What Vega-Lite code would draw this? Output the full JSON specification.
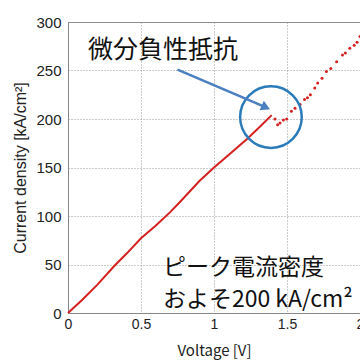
{
  "$schema": "https://vega.github.io/schema/vega-lite/v6.json",
  "width": 292,
  "height": 291,
  "autosize": "none",
  "padding": {"left": 68, "top": 22, "right": 0, "bottom": 51},
  "background": "white",
  "config": {
    "view": {"stroke": "#888888", "strokeWidth": 1},
    "axis": {
      "gridColor": "#999999", "gridDash": [1, 2], "gridWidth": 1,
      "domainColor": "#888888", "ticks": false,
      "labelFont": "Liberation Sans", "labelFontSize": 15, "labelColor": "#222222",
      "titleFont": "Liberation Sans", "titleFontSize": 15, "titleFontWeight": "normal", "titleColor": "#222222"
    }
  },
  "datasets": {
    "iv": [
      {"v": 0, "j": 0, "seg": "a"}, {"v": 0.05, "j": 7, "seg": "a"}, {"v": 0.1, "j": 14, "seg": "a"},
      {"v": 0.2, "j": 29, "seg": "a"}, {"v": 0.32, "j": 49, "seg": "a"}, {"v": 0.4, "j": 61, "seg": "a"},
      {"v": 0.5, "j": 77, "seg": "a"}, {"v": 0.6, "j": 90, "seg": "a"}, {"v": 0.7, "j": 104, "seg": "a"},
      {"v": 0.77, "j": 115, "seg": "a"}, {"v": 0.9, "j": 136, "seg": "a"}, {"v": 1.0, "j": 150, "seg": "a"},
      {"v": 1.1, "j": 163, "seg": "a"}, {"v": 1.23, "j": 180, "seg": "a"}, {"v": 1.3, "j": 190, "seg": "a"},
      {"v": 1.395, "j": 204, "seg": "a"},
      {"v": 1.418, "j": 200, "seg": "b"}, {"v": 1.436, "j": 194, "seg": "b"}, {"v": 1.452, "j": 196, "seg": "b"},
      {"v": 1.475, "j": 199, "seg": "b"}, {"v": 1.498, "j": 200, "seg": "b"}, {"v": 1.53, "j": 208, "seg": "b"},
      {"v": 1.555, "j": 211, "seg": "b"}, {"v": 1.59, "j": 215, "seg": "b"}, {"v": 1.62, "j": 220, "seg": "b"},
      {"v": 1.64, "j": 222, "seg": "b"}, {"v": 1.66, "j": 225, "seg": "b"}, {"v": 1.69, "j": 232, "seg": "b"},
      {"v": 1.71, "j": 237, "seg": "b"}, {"v": 1.74, "j": 242, "seg": "b"}, {"v": 1.77, "j": 249, "seg": "b"},
      {"v": 1.8, "j": 252, "seg": "b"}, {"v": 1.84, "j": 259, "seg": "b"}, {"v": 1.88, "j": 266, "seg": "b"},
      {"v": 1.9, "j": 268, "seg": "b"}, {"v": 1.93, "j": 273, "seg": "b"}, {"v": 1.96, "j": 276, "seg": "b"},
      {"v": 1.98, "j": 279, "seg": "b"}, {"v": 2.0, "j": 285, "seg": "b"}
    ]
  },
  "layer": [
    {
      "data": {"name": "iv"},
      "transform": [{"filter": "datum.seg === 'a'"}],
      "mark": {"type": "line", "color": "#d42020", "strokeWidth": 2},
      "encoding": {
        "x": {"field": "v", "type": "quantitative", "scale": {"domain": [0, 2], "nice": false},
          "axis": {"values": [0, 0.5, 1, 1.5, 2], "labelExpr": "datum.value", "labelFlush": false, "labelFontSize": 14,
            "title": "Voltage [V]", "titleFont": "Noto Sans CJK JP", "titlePadding": 12, "labelPadding": 4}},
        "y": {"field": "j", "type": "quantitative", "scale": {"domain": [0, 300], "nice": false},
          "axis": {"values": [0, 50, 100, 150, 200, 250, 300], "title": "Current density [kA/cm²]", "titleFontSize": 16, "titlePadding": 7, "labelPadding": 7}}
      }
    },
    {
      "data": {"name": "iv"},
      "transform": [{"filter": "datum.seg === 'b'"}],
      "mark": {"type": "point", "filled": true, "color": "#d42020", "size": 9, "opacity": 1},
      "encoding": {
        "x": {"field": "v", "type": "quantitative"},
        "y": {"field": "j", "type": "quantitative"}
      }
    },
    {
      "data": {"values": [{}]},
      "mark": {"type": "point", "shape": "circle", "size": 3800, "filled": false, "stroke": "#2b7bba", "strokeWidth": 2.5, "opacity": 1},
      "encoding": {"x": {"datum": 1.39}, "y": {"datum": 202}}
    },
    {
      "data": {"values": [{}]},
      "mark": {"type": "rule", "color": "#4a7fc0", "strokeWidth": 2.5},
      "encoding": {"x": {"datum": 0.75}, "y": {"datum": 251}, "x2": {"datum": 1.34}, "y2": {"datum": 213}}
    },
    {
      "data": {"values": [{}]},
      "mark": {"type": "point", "shape": "triangle-right", "size": 110, "filled": true, "color": "#4a7fc0", "opacity": 1, "angle": 24},
      "encoding": {"x": {"datum": 1.355}, "y": {"datum": 212}}
    },
    {
      "data": {"values": [{}]},
      "mark": {"type": "text", "text": "微分負性抵抗", "font": "Noto Sans CJK JP", "fontSize": 25, "align": "left", "baseline": "middle", "color": "#111111"},
      "encoding": {"x": {"datum": 0.137}, "y": {"datum": 271}}
    },
    {
      "data": {"values": [{}]},
      "mark": {"type": "text", "text": "ピーク電流密度", "font": "Noto Sans CJK JP", "fontSize": 23, "align": "left", "baseline": "middle", "color": "#111111"},
      "encoding": {"x": {"datum": 0.65}, "y": {"datum": 46}}
    },
    {
      "data": {"values": [{}]},
      "mark": {"type": "text", "text": "およそ200 kA/cm²", "font": "Noto Sans CJK JP", "fontSize": 23, "align": "left", "baseline": "middle", "color": "#111111"},
      "encoding": {"x": {"datum": 0.65}, "y": {"datum": 13}}
    }
  ]
}
